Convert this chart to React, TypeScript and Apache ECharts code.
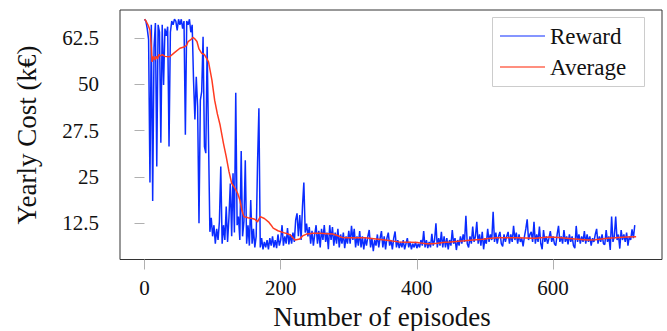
import React, { useEffect, useRef } from "react";
import * as echarts from "echarts";

// Reward per episode (k€), one value every EPISODE_STEP episodes starting at 0
const EPISODE_STEP = 2;
const rewardValues = [
  67.5, 67, 65, 62, 23.5, 66, 18.5, 60, 66.5, 27.8,
  66, 64, 34.2, 66, 49.8, 65, 63, 65.5, 33.2, 64,
  67, 66, 67.5, 67, 64.5, 67.5, 66, 67.5, 65, 67,
  36.4, 67, 66, 67.5, 64, 66, 51, 40.5, 52, 44,
  12.5, 45.7, 48, 62.8, 33.2, 31.4, 60.1, 35, 10.2, 14,
  9, 12, 7, 11, 8, 13, 27.8, 7, 12, 8,
  17, 7.5, 14, 23.2, 9, 26, 10, 47.7, 12, 14.3,
  8, 32, 9, 13, 29.5, 7, 12, 6.5, 18.8, 7,
  11, 6, 9, 28.7, 43.5, 6, 8.5, 5.5, 7.5, 6,
  8, 5.5, 8.5, 6.5, 9, 6, 8, 5.8, 9.5, 6.5,
  8, 12, 6.5, 9, 7, 11.2, 6.8, 9.5, 7, 10,
  7.5, 13.4, 15.2, 9, 14.7, 8, 17, 23.5, 10, 12.4,
  9, 11.5, 7, 10.5, 6.5, 9.5, 12, 7, 10.5, 6,
  11, 8, 12, 7.5, 10, 5.5, 12, 8, 11.5, 6.5,
  10, 7, 11, 6, 9.5, 7, 10, 5.8, 9, 7,
  10.5, 7, 11.8, 8, 11, 6, 9, 6.5, 10.4, 6,
  9, 5.5, 8.5, 6.5, 9, 10.7, 6, 8.5, 5, 8,
  6.5, 9.5, 6, 8.5, 10.4, 6, 9, 5.5, 8.5, 10,
  6.5, 8, 5.5, 8.5, 10.3, 6, 8, 5.8, 7.5, 6,
  8, 5.5, 7, 8.5, 6, 7.5, 5.5, 7, 6, 7.5,
  5.8, 7, 6, 8, 6.5, 10.4, 6, 8, 5.8, 7.5,
  6, 9.7, 6.5, 8, 12.5, 6, 8.5, 6.5, 10.2, 6,
  9, 6, 8.5, 5.5, 8, 6.5, 10.7, 7, 8.5, 5.3,
  8, 6.5, 9, 7, 9.5, 7.5, 14.5, 7, 6, 9,
  7, 11.6, 7.5, 9, 12.9, 7, 9.5, 6.5, 10.2, 5.5,
  8.5, 7, 11, 7.5, 9.5, 8, 15.6, 7.5, 10, 7,
  9, 10.2, 7, 6.3, 9.5, 7.5, 9, 10.2, 7, 9.5,
  7.5, 11.8, 8, 10, 7, 9.5, 7.5, 8.5, 6.3, 9,
  11, 13.6, 8, 9.5, 10.2, 7.5, 12.9, 7, 9.5, 7.5,
  11.6, 7, 5.5, 10.7, 7.5, 9, 7, 8.5, 10.4, 7.5,
  9, 7, 6.5, 9.5, 11.8, 7.5, 9, 7, 10.7, 7.5,
  9, 6.8, 9.5, 7.5, 9, 6.5, 5.8, 11.8, 7.5, 9.5,
  7, 9, 7.5, 10.4, 7, 9.5, 7.5, 9, 6.5, 8.5,
  7.5, 9.5, 11, 7, 9, 7.5, 9.5, 7, 6.8, 10.7,
  7.5, 9, 5.3, 14.3, 7.5, 9, 14.3, 8, 9.5, 5.7,
  10.7, 8, 9.5, 7.5, 10, 6.5, 9, 8, 10.9, 8.5,
  12,
];

// Running average (k€)
const avgEpisodes = [
  0, 2, 5, 8, 10, 11, 13, 15, 17, 19, 21, 23, 26, 30, 37, 44, 52, 59, 62, 64,
  68, 71, 74, 77, 80, 84, 88, 91, 94, 99, 103, 107, 111, 116, 120, 124, 128, 133, 137, 140,
  143, 146, 152, 158, 162, 166, 170, 176, 182, 186, 189, 196, 204, 210, 214, 218, 221, 228, 233, 238,
  248, 258, 268, 277, 283, 290, 300, 324, 340, 353, 373, 390, 402, 414, 422, 430, 441, 449, 470, 482,
  497, 505, 517, 547, 573, 595, 608, 620, 632, 650, 662, 680, 691, 708, 722,
];
const avgValues = [
  67.5, 67.1, 66, 64.6, 60, 56, 57.5, 56.5, 57.5, 56.8, 58, 57.6, 58, 57.5, 57.4, 58.5, 59.7, 60.1, 60.5, 61.5,
  62, 62.6, 62.2, 61.5, 59.5, 58.3, 58, 57, 56, 51.1, 45.7, 42, 39, 34, 30.5, 26.5, 23.3, 21.9, 20.5, 18.8,
  16, 14.3, 14, 13.8, 13.6, 12.9, 14.3, 13.8, 12.9, 12, 11.2, 10.5, 10, 9.7, 9.4, 8.6, 8, 8.3, 9.2, 9.6,
  9.8, 9.8, 9.7, 9.6, 9.2, 8.7, 8.6, 8.6, 8.3, 8, 7.5, 7.4, 7.3, 7, 7, 7.1, 7.4, 7.5, 7.8, 8,
  8.2, 8.4, 8.6, 8.6, 8.5, 8.8, 8.7, 8.5, 8.3, 8.0, 8.1, 8.5, 8.6, 8.8, 8.9,
];

const xTicks = [0, 200, 400, 600];
const yTicks = [12.5, 25, 37.5, 50, 62.5];
const yTickLabels = ["12.5", "25", "27.5", "50", "62.5"];

const FONT = "'Liberation Serif', 'DejaVu Serif', serif";
const BLUE = "#0a2cff";
const RED = "#ff3b21";

export default function App() {
  const ref = useRef<HTMLDivElement>(null);

  useEffect(() => {
    if (!ref.current) return;
    const chart = echarts.init(ref.current, undefined, { renderer: "svg" });
    const rewardData = rewardValues.map((v, i) => [i * EPISODE_STEP, v]);
    const avgData = avgEpisodes.map((e, i) => [e, avgValues[i]]);

    chart.setOption({
      animation: false,
      backgroundColor: "#ffffff",
      grid: {
        left: 120,
        top: 10,
        right: 5,
        bottom: 71.5,
        show: true,
        borderColor: "#333333",
        borderWidth: 1,
        backgroundColor: "transparent",
      },
      xAxis: {
        type: "value",
        min: -36,
        max: 760,
        axisLine: { show: false },
        splitLine: { show: false },
        axisTick: {
          show: true,
          length: 10,
          customValues: xTicks,
          lineStyle: { color: "#b0b0b0", width: 1 },
        },
        axisLabel: {
          customValues: xTicks,
          margin: 18,
          color: "#111",
          fontFamily: FONT,
          fontSize: 21,
        },
      },
      yAxis: {
        type: "value",
        min: 2.75,
        max: 70,
        axisLine: { show: false },
        splitLine: { show: false },
        axisTick: {
          show: true,
          length: 10,
          customValues: yTicks,
          lineStyle: { color: "#b0b0b0", width: 1 },
        },
        axisLabel: {
          customValues: yTicks,
          margin: 21,
          color: "#111",
          fontFamily: FONT,
          fontSize: 21,
          formatter: (v: number) => {
            const idx = yTicks.findIndex((t) => Math.abs(t - v) < 1e-6);
            return idx >= 0 ? yTickLabels[idx] : "";
          },
        },
      },
      legend: {
        orient: "vertical",
        left: 500,
        top: 24,
        padding: 0,
        itemWidth: 45,
        itemHeight: 1.3,
        itemGap: 7,
        icon: "rect",
        data: [
          { name: "Reward", itemStyle: { color: "#5c72ff" } },
          { name: "Average", itemStyle: { color: "#ff6a55" } },
        ],
        textStyle: { fontFamily: FONT, fontSize: 23, lineHeight: 24, color: "#111" },
      },
      graphic: [
        {
          type: "rect",
          z: 1,
          shape: { x: 492.5, y: 17.5, width: 152, height: 69 },
          style: { fill: "#ffffff", stroke: "#cccccc", lineWidth: 1 },
        },
        {
          type: "text",
          x: 382,
          y: 317,
          style: {
            text: "Number of episodes",
            fontFamily: FONT,
            fontSize: 27,
            fill: "#111",
            textAlign: "center",
            textVerticalAlign: "middle",
          },
        },
        {
          type: "text",
          x: 27,
          y: 135,
          rotation: Math.PI / 2,
          style: {
            text: "Yearly Cost (k€)",
            fontFamily: FONT,
            fontSize: 27,
            fill: "#111",
            textAlign: "center",
            textVerticalAlign: "middle",
          },
        },
      ],
      series: [
        {
          name: "Reward",
          type: "line",
          data: rewardData,
          symbol: "none",
          showSymbol: false,
          z: 2,
          lineStyle: { color: BLUE, width: 1.5 },
          itemStyle: { color: BLUE },
        },
        {
          name: "Average",
          type: "line",
          data: avgData,
          symbol: "none",
          showSymbol: false,
          z: 3,
          lineStyle: { color: RED, width: 1.5 },
          itemStyle: { color: RED },
        },
      ],
    });

    return () => chart.dispose();
  }, []);

  return (
    <div
      ref={ref}
      style={{ position: "absolute", left: 0, top: 0, width: 667, height: 331 }}
    />
  );
}
